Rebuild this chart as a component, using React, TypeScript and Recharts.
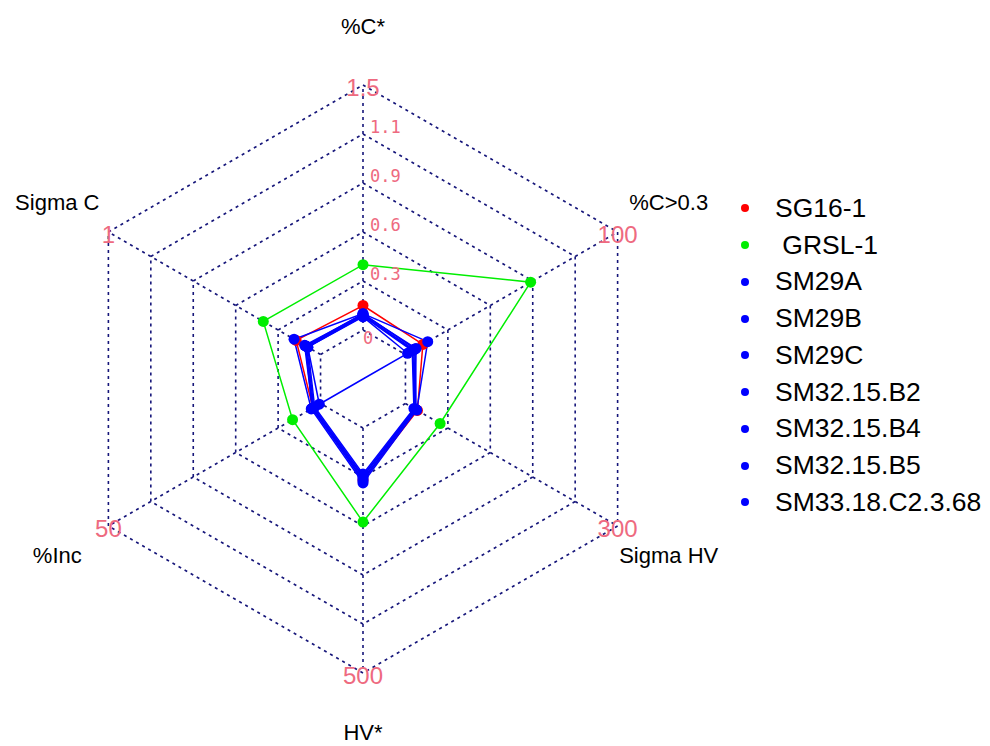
import React from "react";
import { RadarChart, Radar, PolarGrid, PolarAngleAxis, PolarRadiusAxis, Legend } from "recharts";

// ---- data ----
const categories = ["%C*", "%C>0.3", "Sigma HV", "HV*", "%Inc", "Sigma C"];
const maxValues = [1.5, 100, 300, 500, 50, 1];
const maxLabels = ["1.5", "100", "300", "500", "50", "1"];
const scaleTicks = [0, 0.2, 0.4, 0.6, 0.8, 1];
const scaleLabels = ["0", "0.3", "0.6", "0.9", "1.1", ""];

const seriesNames = ["SG16-1", " GRSL-1", "SM29A", "SM29B", "SM29C", "SM32.15.B2", "SM32.15.B4", "SM32.15.B5", "SM33.18.C2.3.68"];
const seriesColors = ["#FF0000", "#00EE00", "#0000FF", "#0000FF", "#0000FF", "#0000FF", "#0000FF", "#0000FF", "#0000FF"];

// values in order of categories; null = missing
const sg16_1 = [0.15, 8.2, 17, 106, 1.8, 0.115];
const grsl_1 = [0.4, 59, 49, 192, 6.6, 0.27];
const sm29a = [0.1, 10.5, 16, 112, 2.2, 0.125];
const sm29b = [0.09, 4.0, 14, 100, 1.8, 0.07];
const sm29c = [0.08, 1.0, null, null, 0.3, 0.06];
const sm32_15_b2 = [0.09, 3.5, 13, 98, 1.6, 0.065];
const sm32_15_b4 = [0.1, 4.5, 15, 104, 2.0, 0.07];
const sm32_15_b5 = [0.085, 3.2, 12, 94, 1.4, 0.06];
const sm33_18_c2_3_68 = [0.095, 5.0, 14, 108, 1.9, 0.075];

const seriesValues = [sg16_1, grsl_1, sm29a, sm29b, sm29c, sm32_15_b2, sm32_15_b4, sm32_15_b5, sm33_18_c2_3_68];

// ---- layout ----
const W = 990;
const H = 746;
const CX = 363;
const CY = 379;
const R = 294;
const R0 = R / 6;
const LABEL_GAP = 59;
const NA_POS = -R0 / (R - R0); // maps to the centre point
const GRID = "#16167A";
const PINK = "#EE6A80";
const gridRadii = scaleTicks.map((t) => R0 + t * (R - R0));

const tableData = categories.map((c, i) => {
  const row: any = { axis: c };
  seriesValues.forEach((vals, s) => {
    const v = vals[i];
    row["s" + s] = v == null ? NA_POS : (v as number) / maxValues[i];
  });
  return row;
});

const AngleTick = (props: any) => {
  const { x, y, index } = props;
  const k = R / (R + LABEL_GAP);
  const vx = CX + (x - CX) * k;
  const vy = CY + (y - CY) * k;
  return (
    <g>
      <text x={x} y={y} textAnchor="middle" dominantBaseline="central" fill="#000" fontSize={22} fontFamily="Liberation Sans, Arial, sans-serif">
        {categories[index]}
      </text>
      <text x={vx} y={vy + 2} textAnchor="middle" dominantBaseline="central" fill={PINK} fontSize={24} fontFamily="Liberation Sans, Arial, sans-serif">
        {maxLabels[index]}
      </text>
    </g>
  );
};

const RadiusTick = (props: any) => {
  const { x, y, payload } = props;
  const idx = scaleTicks.findIndex((t) => Math.abs(t - payload.value) < 1e-6);
  if (idx < 0 || !scaleLabels[idx]) return <g />;
  const isZero = idx === 0;
  return (
    <text x={x + (isZero ? 0 : 7)} y={y + (isZero ? 8 : -7)} textAnchor="start" dominantBaseline="central" fill={PINK} fontSize={17} fontFamily="DejaVu Sans Mono, monospace">
      {scaleLabels[idx]}
    </text>
  );
};

const makeDot = (color: string) => (props: any) => {
  const { cx, cy, index } = props;
  if (Math.hypot(cx - CX, cy - CY) < 2) return <g key={"d" + index} />;
  return <circle key={"d" + index} cx={cx} cy={cy} r={5.5} fill={color} stroke="none" />;
};

const renderLegend = () => (
  <div style={{ fontFamily: "Liberation Sans, Arial, sans-serif", fontSize: 26.5, color: "#000" }}>
    {seriesNames.map((name, i) => (
      <div key={i} style={{ height: 36.75, display: "flex", alignItems: "center" }}>
        <span style={{ display: "inline-block", width: 8, height: 8, borderRadius: 4, background: seriesColors[i], marginLeft: 6, marginRight: 26 }} />
        <span style={{ whiteSpace: "pre" }}>{name}</span>
      </div>
    ))}
  </div>
);

export default function App() {
  return (
    <div style={{ position: "absolute", left: 0, top: 0, width: W, height: H, background: "#fff" }}>
      <RadarChart
        width={W}
        height={H}
        data={tableData}
        cx={CX}
        cy={CY}
        innerRadius={R0}
        outerRadius={R}
        margin={{ top: 0, right: 0, bottom: 0, left: 0 }}
      >
        <PolarGrid gridType="polygon" polarRadius={gridRadii} stroke={GRID} strokeWidth={1.6} strokeDasharray="3 4" />
        <PolarAngleAxis dataKey="axis" axisLine={false} tickLine={false} tickSize={LABEL_GAP} tick={<AngleTick />} />
        <PolarRadiusAxis
          angle={90}
          domain={[0, 1]}
          ticks={scaleTicks}
          tickCount={6}
          allowDataOverflow
          axisLine={false}
          tickLine={false}
          tick={<RadiusTick />}
        />
        {seriesNames.map((name, s) => (
          <Radar
            key={name}
            name={name}
            dataKey={"s" + s}
            stroke={seriesColors[s]}
            strokeWidth={1.5}
            fill="none"
            fillOpacity={0}
            dot={makeDot(seriesColors[s])}
            isAnimationActive={false}
            legendType="circle"
          />
        ))}
        <Legend
          layout="vertical"
          align="right"
          verticalAlign="top"
          content={renderLegend}
          wrapperStyle={{ left: 735, top: 190, width: 255, right: "auto" }}
        />
      </RadarChart>
    </div>
  );
}
